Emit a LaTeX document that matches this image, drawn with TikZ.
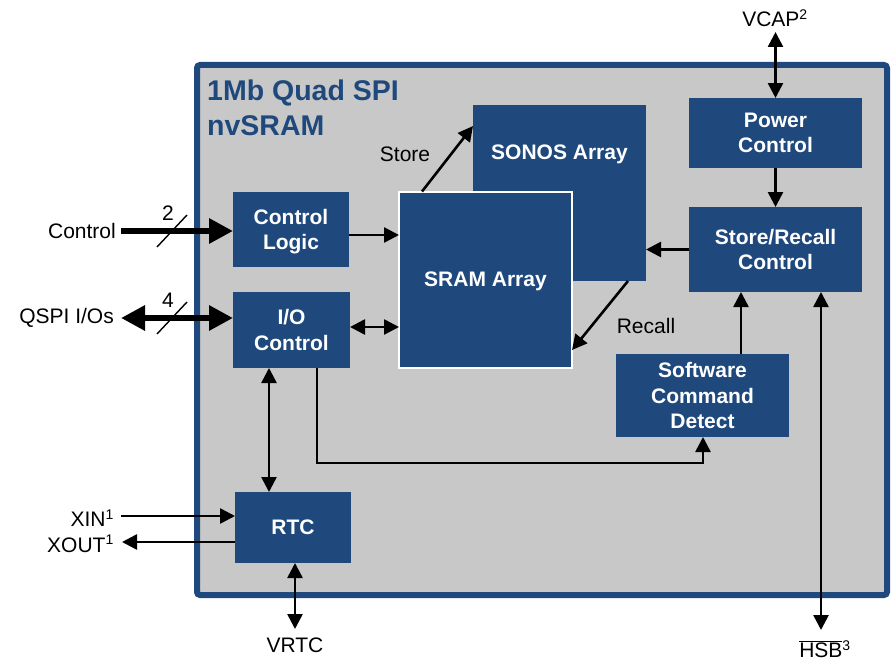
\documentclass[tikz,border=0pt]{standalone}
\usepackage{fontspec}
\setmainfont{Liberation Sans}
\usetikzlibrary{arrows.meta,calc}
\definecolor{dblue}{RGB}{31,73,125}
\definecolor{chipgray}{RGB}{200,200,200}
\newcommand\mysups[1]{\textsuperscript{\fontsize{14}{14}\selectfont #1}}
\begin{document}
\begin{tikzpicture}[x=1pt,y=-1pt,
  blk/.style={fill=dblue,text=white,font=\bfseries\fontsize{21}{25.5}\selectfont,align=center,inner sep=0pt,outer sep=0pt,text depth=0pt},
  blktext/.style={text=white,font=\bfseries\fontsize{21}{25.5}\selectfont,inner sep=0pt,text depth=0pt},
  lbl/.style={font=\fontsize{21}{25}\selectfont,inner sep=0pt},
  ttl/.style={text=dblue,font=\bfseries\fontsize{28.5}{34}\selectfont,inner sep=0pt},
  sarrow/.style={line width=2.6pt,-{Triangle[length=15pt,width=15pt]}},
  darrow/.style={line width=2.6pt,{Triangle[length=15pt,width=15pt]}-{Triangle[length=15pt,width=15pt]}},
  tharrow/.style={line width=6.5pt,-{Triangle[length=24pt,width=24pt]}},
  thdarrow/.style={line width=6.5pt,{Triangle[length=24pt,width=24pt]}-{Triangle[length=24pt,width=24pt]}},
  slash/.style={line width=1.4pt}
]
\useasboundingbox (0,0) rectangle (894,661);
% chip
\node[draw=dblue,line width=6pt,fill=chipgray,rounded corners=3pt,minimum width=690pt,minimum height=530pt,inner sep=0pt,outer sep=0pt] (chip) at (542,330) {};
\node[ttl,anchor=base west] (t1) at (207,100) {1Mb Quad SPI};
\node[ttl,anchor=base west] (t2) at (207,135) {nvSRAM};
% blocks
\node[blk,minimum width=116pt,minimum height=75pt] (ctrl) at (291,229.5) {Control\\Logic};
\node[blk,minimum width=117pt,minimum height=76pt] (io) at (291.5,330) {I/O\\Control};
\node[blk,minimum width=173pt,minimum height=176pt] (sonos) at (559.5,193) {};
\node[blktext] (sonoslbl) at (559.5,152) {SONOS Array};
\node[blk,draw=white,line width=2pt,minimum width=173pt,minimum height=176pt] (sram) at (485.5,279.5) {SRAM Array};
\node[blk,minimum width=173pt,minimum height=70pt] (power) at (775.5,133) {Power\\Control};
\node[blk,minimum width=173pt,minimum height=85pt] (sr) at (775.5,249.5) {Store/Recall\\Control};
\node[blk,minimum width=173pt,minimum height=83pt] (swcd) at (702.5,395.5) {Software\\Command\\Detect};
\node[blk,minimum width=116pt,minimum height=71pt] (rtc) at (293,527.5) {RTC};
% outside labels
\node[lbl,anchor=east] (ctrllbl) at (116,231) {Control};
\node[lbl,anchor=east] (qspilbl) at (114,318) {QSPI I/Os};
\node[lbl,anchor=east] (xinlbl) at (114,518) {XIN\mysups{1}};
\node[lbl,anchor=east] (xoutlbl) at (114,544) {XOUT\mysups{1}};
\node[lbl] (vcaplbl) at (775,18) {VCAP\mysups{2}};
\node[lbl] (vrtclbl) at (295,645) {VRTC};
\node[lbl] (hsblbl) at (825,649) {$\overline{\mbox{HSB}}$\mysups{3}};
\node[lbl] (storelbl) at (405,154) {Store};
\node[lbl] (recalllbl) at (646,326) {Recall};
\node[lbl] (two) at (168,213) {2};
\node[lbl] (four) at (168,300) {4};
% helper coordinates
\coordinate (cin) at (121,231);
\coordinate (qin) at (121,318);
\coordinate (y235) at (0,235);
\coordinate (y327) at (0,327);
\coordinate (x422) at (422,0);
\coordinate (y126) at (0,126);
\coordinate (x628) at (628,0);
\coordinate (y350) at (0,350);
\coordinate (vcaptop) at (775.5,32);
\coordinate (x741) at (741,0);
\coordinate (hsbbot) at (821,630);
\coordinate (bend) at (703,463);
\coordinate (x317) at (317,0);
\coordinate (x269) at (269,0);
\coordinate (xinstart) at (121,516);
\coordinate (xoutend) at (122,542);
\coordinate (vrtcbot) at (295,629);
% connectors
\draw[tharrow] (cin) -- (ctrl.west |- cin);
\draw[slash] (157,247) -- (187,215);
\draw[thdarrow] (qin) -- (io.west |- qin);
\draw[slash] (157,334) -- (187,302);
\draw[sarrow] (ctrl.east |- y235) -- (sram.west |- y235);
\draw[darrow] (io.east |- y327) -- (sram.west |- y327);
\draw[sarrow] (sram.north -| x422) -- (sonos.west |- y126);
\draw[sarrow] (sonos.south -| x628) -- (sram.east |- y350);
\draw[sarrow] (sr.west) -- (sonos.east |- sr.west);
\draw[sarrow] (power.south) -- (sr.north);
\draw[darrow] (power.north) -- (vcaptop);
\draw[sarrow] (swcd.north -| x741) -- (sr.south -| x741);
\draw[darrow] (sr.south -| hsbbot) -- (hsbbot);
\draw[sarrow] (io.south -| x317) |- (bend) -- (swcd.south -| bend);
\draw[darrow] (io.south -| x269) -- (rtc.north -| x269);
\draw[sarrow] (xinstart) -- (rtc.west |- xinstart);
\draw[sarrow] (rtc.west |- xoutend) -- (xoutend);
\draw[darrow] (rtc.south -| vrtcbot) -- (vrtcbot);
\end{tikzpicture}
\end{document}
